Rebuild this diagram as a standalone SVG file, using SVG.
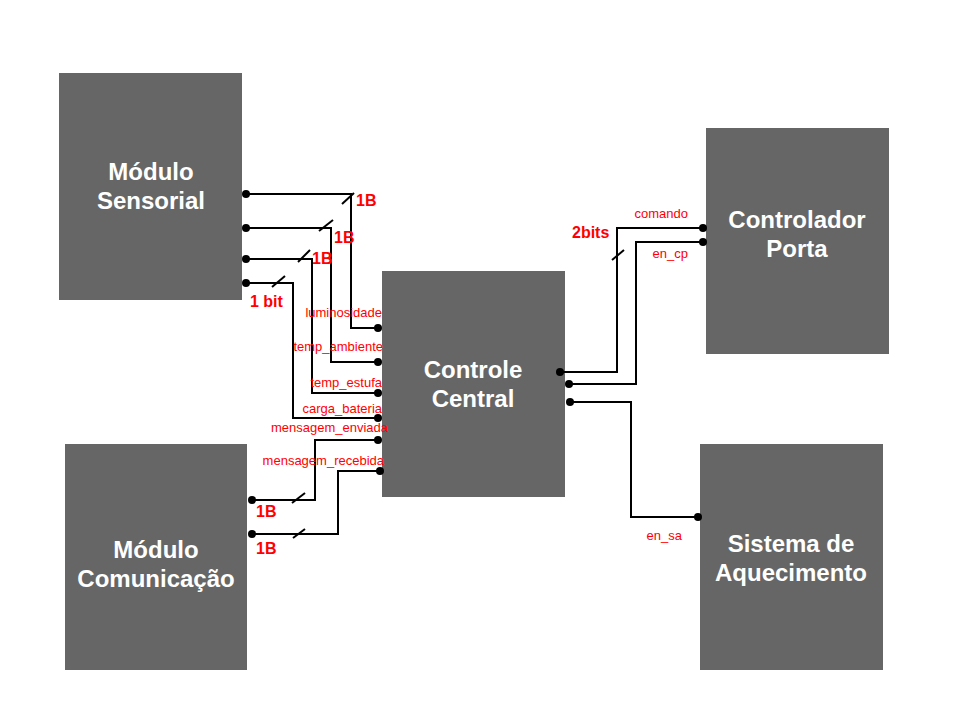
<svg xmlns="http://www.w3.org/2000/svg" width="960" height="720" viewBox="0 0 960 720">
<style>
.box{fill:#666666}
.bt{fill:#ffffff;font-family:"Liberation Sans",Arial,sans-serif;font-size:24px;font-weight:bold;text-anchor:middle}
.w{fill:none;stroke:#000;stroke-width:2}
.dot{fill:#000}
.lb{fill:#ff0000;font-family:"Liberation Sans",Arial,sans-serif;font-size:13px}
.bl{fill:#ff0000;font-family:"Liberation Sans",Arial,sans-serif;font-size:16px;font-weight:bold}
</style>
<rect width="960" height="720" fill="#ffffff"/>
<g id="modulo-sensorial"><rect class="box" x="59" y="73" width="183" height="227"/><text class="bt" x="151" y="180">Módulo</text><text class="bt" x="151" y="209">Sensorial</text></g>
<g id="controle-central"><rect class="box" x="382" y="271" width="183" height="226"/><text class="bt" x="473" y="378">Controle</text><text class="bt" x="473" y="407">Central</text></g>
<g id="controlador-porta"><rect class="box" x="706" y="128" width="183" height="226"/><text class="bt" x="797" y="228">Controlador</text><text class="bt" x="797" y="257">Porta</text></g>
<g id="sistema-aquecimento"><rect class="box" x="700" y="444" width="183" height="226"/><text class="bt" x="791" y="552">Sistema de</text><text class="bt" x="791" y="581">Aquecimento</text></g>
<g id="modulo-comunicacao"><rect class="box" x="65" y="444" width="182" height="226"/><text class="bt" x="156" y="558">Módulo</text><text class="bt" x="156" y="587">Comunicação</text></g>
<g id="connectors">
<polyline class="w" points="246,194 351,194 351,328 378,328"/>
<line class="w" x1="342" y1="204" x2="354" y2="193"/>
<circle class="dot" cx="246" cy="194" r="4"/><circle class="dot" cx="378" cy="328" r="4"/>
<text class="bl" x="356" y="206">1B</text>
<polyline class="w" points="246,228 331,228 331,362 378,362"/>
<line class="w" x1="319" y1="231" x2="333" y2="220"/>
<circle class="dot" cx="246" cy="228" r="4"/><circle class="dot" cx="378" cy="362" r="4"/>
<text class="bl" x="334" y="243">1B</text>
<polyline class="w" points="246,259 312,259 312,393 378,393"/>
<line class="w" x1="298" y1="262" x2="310" y2="250"/>
<circle class="dot" cx="246" cy="259" r="4"/><circle class="dot" cx="378" cy="393" r="4"/>
<text class="bl" x="312" y="264">1B</text>
<polyline class="w" points="246,283 293,283 293,418 378,418"/>
<line class="w" x1="272" y1="287" x2="285" y2="276"/>
<circle class="dot" cx="246" cy="283" r="4"/><circle class="dot" cx="378" cy="418" r="4"/>
<text class="bl" x="250" y="307">1 bit</text>
<polyline class="w" points="252,500 315,500 315,440 378,440"/>
<line class="w" x1="292" y1="503" x2="305" y2="493"/>
<circle class="dot" cx="252" cy="500" r="4"/><circle class="dot" cx="378" cy="440" r="4"/>
<text class="bl" x="256" y="517">1B</text>
<polyline class="w" points="252,534 338,534 338,471 380,471"/>
<line class="w" x1="293" y1="538" x2="305" y2="529"/>
<circle class="dot" cx="252" cy="534" r="4"/><circle class="dot" cx="380" cy="471" r="4"/>
<text class="bl" x="256" y="554">1B</text>
<polyline class="w" points="560,372 617,372 617,228 703,228"/>
<line class="w" x1="612" y1="260" x2="624" y2="250"/>
<circle class="dot" cx="560" cy="372" r="4"/><circle class="dot" cx="703" cy="228" r="4"/>
<text class="bl" x="572" y="238">2bits</text>
<polyline class="w" points="569,384 636,384 636,242 703,242"/>
<circle class="dot" cx="569" cy="384" r="4"/><circle class="dot" cx="703" cy="242" r="4"/>
<polyline class="w" points="570,402 631,402 631,517 698,517"/>
<circle class="dot" cx="570" cy="402" r="4"/><circle class="dot" cx="698" cy="517" r="4"/>
</g>
<g id="labels" text-anchor="end">
<text class="lb" x="382" y="317">luminosidade</text>
<text class="lb" x="383" y="351">temp_ambiente</text>
<text class="lb" x="382" y="387">temp_estufa</text>
<text class="lb" x="382" y="413">carga_bateria</text>
<text class="lb" x="388" y="432">mensagem_enviada</text>
<text class="lb" x="384" y="465">mensagem_recebida</text>
<text class="lb" x="688" y="218">comando</text>
<text class="lb" x="688" y="258">en_cp</text>
<text class="lb" x="682" y="540">en_sa</text>
</g>
</svg>
